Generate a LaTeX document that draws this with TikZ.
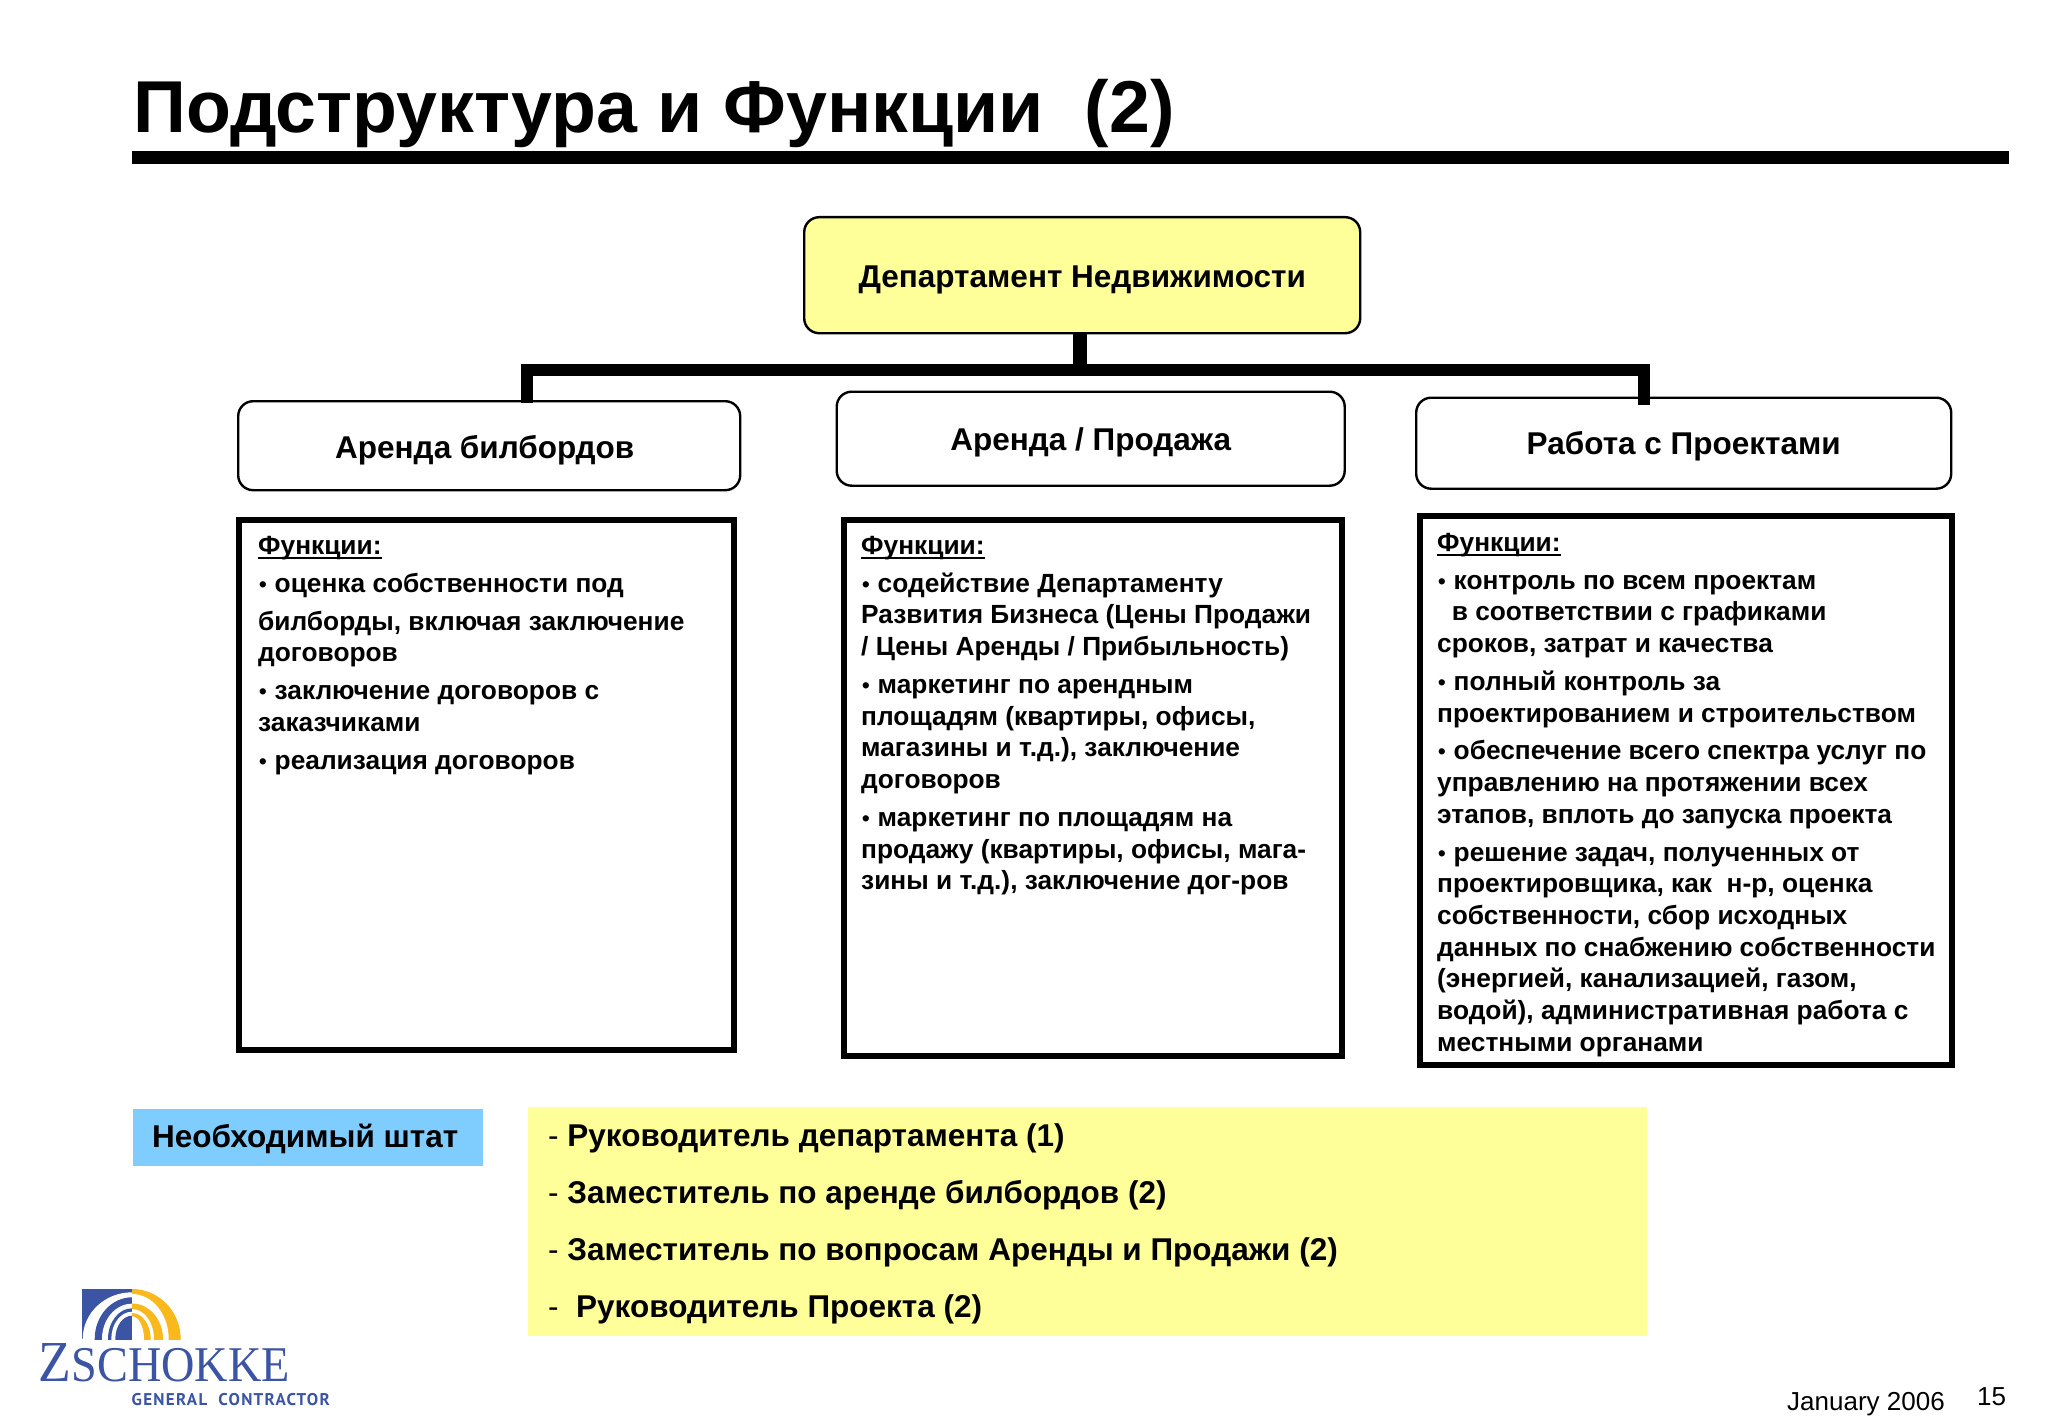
\documentclass[tikz,border=0pt]{standalone}
\usepackage{fontspec}
\setmainfont{Liberation Sans}
\newfontfamily\logoserif{Liberation Serif}
\newfontfamily\logosans[LetterSpace=7.5]{PT Sans}
\definecolor{paleyellow}{HTML}{FFFF99}
\definecolor{skyb}{HTML}{7FCCFF}
\definecolor{logoblue}{HTML}{3B54A4}
\definecolor{logogold}{HTML}{F9B81C}
\newcommand{\fsz}[1]{\fontsize{#1}{#1}\selectfont}
\newcommand{\lift}[1]{\rule{0pt}{#1pt}}
\newcommand{\ul}[1]{\setbox0\hbox{#1}\rlap{\rule[-5pt]{\wd0}{2.6pt}}#1}
\newcommand{\bul}{\setbox0\hbox{•}\makebox[\wd0][c]{\scalebox{0.88}{\textmd{•}}}}
\newcommand{\qell}[4]{\fill[#1] (#2,1339) ellipse [x radius=#3pt,y radius=#4pt];}
\tikzset{
 x=1pt,y=-1pt,
 headbox/.style={draw=black,line width=2.4pt,rounded corners=15pt,anchor=north west,inner sep=0pt,align=center,font=\fsz{31.5}\bfseries},
 funcbox/.style={draw=black,line width=6pt,anchor=north west,inner sep=0pt},
 functext/.style={anchor=north west,inner sep=0pt,align=left,font=\fsz{26.3}\bfseries},
 conn/.style={draw=black,line width=12.5pt,line join=miter},
 stafftext/.style={anchor=west,inner sep=0pt,font=\fsz{31.5}\bfseries},
}
\begin{document}
\begin{tikzpicture}
\useasboundingbox (0,0) rectangle (2048,1423);
\fill[white] (0,0) rectangle (2048,1423);
\node[anchor=base west,inner sep=0pt,font=\fsz{73.5}\bfseries] (title) at (133,133) {Подструктура и Функции\ \ (2)};
\fill[black] (132,151) rectangle (2009,164);
% head boxes
\node[headbox,fill=paleyellow,minimum width=556pt,minimum height=116pt] (dept) at (803,216) {\lift{31.7}Департамент Недвижимости};
\node[headbox,minimum width=502pt,minimum height=89pt] (a) at (237,400) {\hspace*{-9pt}\lift{32}Аренда билбордов};
\node[headbox,minimum width=508pt,minimum height=94pt] (b) at (835.5,390.5) {\lift{30.3}Аренда / Продажа};
\node[headbox,minimum width=535pt,minimum height=91pt] (c) at (1415,396.5) {\lift{28.3}Работа с Проектами};
% connectors
\coordinate (bus) at (1080,370);
\coordinate (busl) at (527,370);
\coordinate (busr) at (1644,370);
\draw[conn,line width=14pt] (dept.south -| bus) -- (bus);
\draw[conn] ([yshift=-3pt]a.north -| busl) -- (busl) -- (busr) -- ([yshift=-8pt]c.north -| busr);
% function boxes
\node[funcbox,minimum width=495pt,minimum height=530pt] (fa) at (236,517) {};
\node[funcbox,minimum width=498pt,minimum height=536pt] (fb) at (840.5,517) {};
\node[funcbox,minimum width=532pt,minimum height=549pt] (fc) at (1416.5,513) {};
\node[functext] (ta) at (258,536) {\ul{Функции:}\\[11.5pt]
\bul{} оценка собственности под\\[11.5pt]
билборды, включая заключение\\[5.4pt]
договоров\\[11.5pt]
\bul{} заключение договоров с\\[5.4pt]
заказчиками\\[11.5pt]
\bul{} реализация договоров};
\node[functext] (tb) at (861,536) {\ul{Функции:}\\[11.5pt]
\bul{} содействие Департаменту\\[5.4pt]
Развития Бизнеса (Цены Продажи\\[5.4pt]
/ Цены Аренды / Прибыльность)\\[11.5pt]
\bul{} маркетинг по арендным\\[5.4pt]
площадям (квартиры, офисы,\\[5.4pt]
магазины и т.д.), заключение\\[5.4pt]
договоров\\[11.5pt]
\bul{} маркетинг по площадям на\\[5.4pt]
продажу (квартиры, офисы, мага-\\[5.4pt]
зины и т.д.), заключение дог-ров};
\node[functext] (tc) at (1437,533) {\ul{Функции:}\\[11.5pt]
\bul{} контроль по всем проектам\\[5.4pt]
\ \ в соответствии с графиками\\[5.4pt]
сроков, затрат и качества\\[11.5pt]
\bul{} полный контроль за\\[5.4pt]
проектированием и строительством\\[11.5pt]
\bul{} обеспечение всего спектра услуг по\\[5.4pt]
управлению на протяжении всех\\[5.4pt]
этапов, вплоть до запуска проекта\\[11.5pt]
\bul{} решение задач, полученных от\\[5.4pt]
проектировщика, как\ \ н-р, оценка\\[5.4pt]
собственности, сбор исходных\\[5.4pt]
данных по снабжению собственности\\[5.4pt]
(энергией, канализацией, газом,\\[5.4pt]
водой), административная работа с\\[5.4pt]
местными органами};
% staff
\node[fill=skyb,minimum width=350pt,minimum height=57pt,inner sep=0pt,anchor=north west,font=\fsz{31.5}\bfseries] (staff) at (133,1109) {\hspace*{-6pt}\lift{26.7}Необходимый штат};
\fill[paleyellow] (528,1107) rectangle (1647,1336);
\node[stafftext] (s1) at (548,1138.5) {\textmd{-} Руководитель департамента (1)};
\node[stafftext] (s2) at (548,1195.5) {\textmd{-} Заместитель по аренде билбордов (2)};
\node[stafftext] (s3) at (548,1252.5) {\textmd{-} Заместитель по вопросам Аренды и Продажи (2)};
\node[stafftext] (s4) at (548,1309.5) {\textmd{-}\ \ Руководитель Проекта (2)};
% logo
\begin{scope}
\clip (81.7,1289.3) rectangle (132,1339);
\fill[logoblue] (81.7,1289.3) rectangle (132,1339);
\qell{white}{132}{49.3}{46.7}
\qell{logoblue}{132}{37.3}{41.7}
\qell{white}{132}{30}{35.3}
\qell{logoblue}{132}{24}{30.7}
\qell{white}{132}{20.7}{27.3}
\qell{logoblue}{132}{16.7}{23.3}
\end{scope}
\begin{scope}
\clip (132,1285) rectangle (185,1339);
\qell{logogold}{132}{48.7}{50}
\qell{white}{132}{36.7}{45}
\qell{logogold}{132}{31}{35.5}
\qell{white}{132}{22}{30}
\qell{logogold}{132}{18.7}{26}
\qell{white}{132}{12}{22.7}
\end{scope}
\node[anchor=base west,inner sep=0pt,text=logoblue,font=\logoserif] (zs) at (38.5,1381) {\scalebox{0.925}[1]{\fsz{58}Z\fsz{50}SCHOKKE}};
\node[anchor=base west,inner sep=0pt,text=logoblue,font=\logosans\fsz{17}\bfseries] (gc) at (131.5,1405) {GENERAL\ \ CONTRACTOR};
% footer
\node[anchor=base west,inner sep=0pt,font=\fsz{26}] (date) at (1787,1410) {January 2006};
\node[anchor=base west,inner sep=0pt,font=\fsz{26}] (page) at (1977,1405) {15};
\end{tikzpicture}
\end{document}
